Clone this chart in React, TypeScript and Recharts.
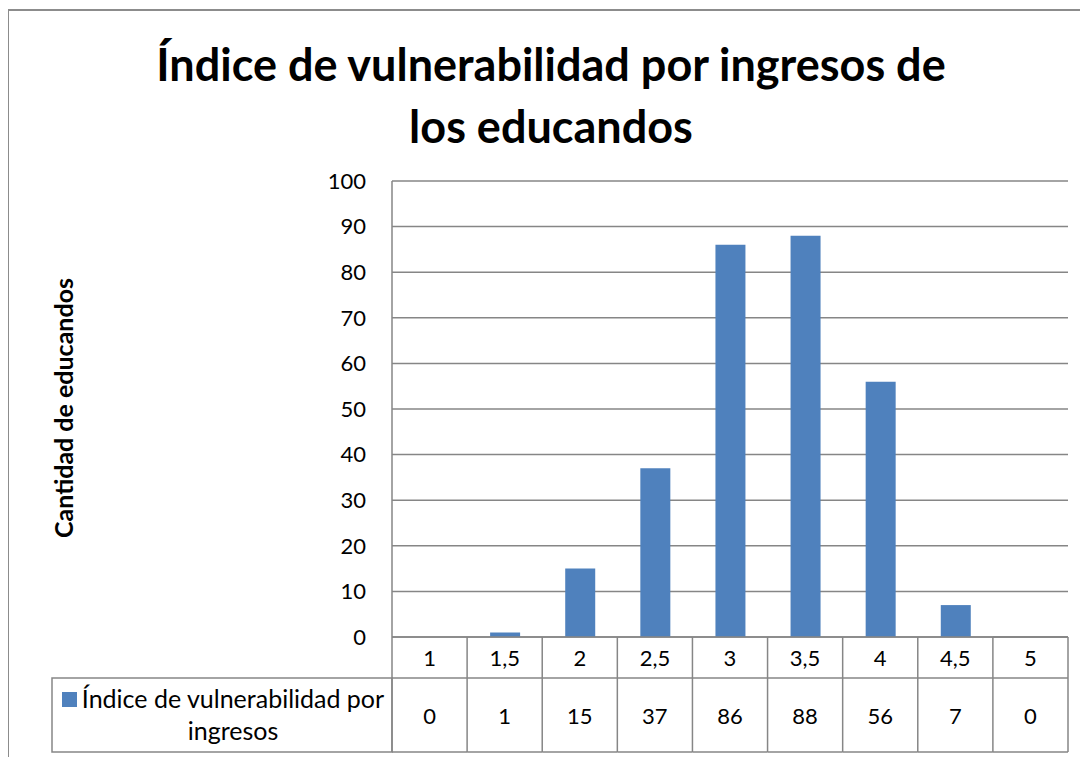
import React from "react";
import { BarChart, Bar, XAxis, YAxis, CartesianGrid } from "recharts";

const categories = ["1", "1,5", "2", "2,5", "3", "3,5", "4", "4,5", "5"];
const values = [0, 1, 15, 37, 86, 88, 56, 7, 0];
const yTicks = [0, 10, 20, 30, 40, 50, 60, 70, 80, 90, 100];
const seriesName = "Índice de vulnerabilidad por ingresos";
const legendLines = ["Índice de vulnerabilidad por", "ingresos"];
const titleLines = ["Índice de vulnerabilidad por ingresos de", "los educandos"];
const yLabel = "Cantidad de educandos";

const W = 1088;
const H = 757;
const LEFT = 392;
const RIGHT = 20;
const TOP = 181;
const TABLE_H = 120;
const ROW1 = 41;
const ROW2 = 74;
const FONT = "Lato, Calibri, 'Open Sans', sans-serif";
const GRID = "#868686";
const BLUE = "#4F81BD";

const data = categories.map((c, i) => ({ cat: c, value: values[i] }));
const bandW = (W - LEFT - RIGHT) / categories.length;

// x axis tick drawn as a column of the data table under the plot
function TableTick(props: any) {
  const { x, y, payload, index } = props;
  const x0 = x - bandW / 2;
  const x1 = x + bandW / 2;
  const yMid = y + ROW1;
  const yBot = y + ROW1 + ROW2;
  const last = index === categories.length - 1;
  return (
    <g>
      <line x1={x0} y1={y} x2={x0} y2={yBot} stroke={GRID} strokeWidth={1.5} />
      {last && <line x1={x1} y1={y} x2={x1} y2={yBot} stroke={GRID} strokeWidth={1.5} />}
      <line x1={x0} y1={yMid} x2={x1} y2={yMid} stroke={GRID} strokeWidth={1.5} />
      <line x1={x0} y1={yBot} x2={x1} y2={yBot} stroke={GRID} strokeWidth={1.5} />
      {last && <line x1={x0} y1={y} x2={x1} y2={y} stroke={GRID} strokeWidth={1.5} />}
      <text x={x} y={y + ROW1 / 2} textAnchor="middle" dominantBaseline="central" fontSize={22} fontFamily={FONT} fill="#000">
        {payload.value}
      </text>
      <text x={x} y={yMid + ROW2 / 2} textAnchor="middle" dominantBaseline="central" fontSize={22} fontFamily={FONT} fill="#000">
        {values[index]}
      </text>
      {index === 0 && (
        <g>
          <rect x={52} y={yMid} width={x0 - 52} height={ROW2} fill="none" stroke={GRID} strokeWidth={1.5} />
          <rect x={62} y={yMid + 14} width={15} height={15} fill={BLUE} />
          <text x={233} y={yMid + 20} textAnchor="middle" dominantBaseline="central" fontSize={25} fontFamily={FONT} fill="#000">
            {legendLines[0]}
          </text>
          <text x={233} y={yMid + 52} textAnchor="middle" dominantBaseline="central" fontSize={25} fontFamily={FONT} fill="#000">
            {legendLines[1]}
          </text>
        </g>
      )}
    </g>
  );
}

export default function App() {
  return (
    <div style={{ position: "relative", width: W, height: H, margin: "-8px 0 0 -8px", background: "#fff", overflow: "hidden" }}>
      <div style={{ position: "absolute", left: 7, top: 9, width: 1200, height: 900, borderLeft: "2px solid #8c8c8c", borderTop: "2px solid #8c8c8c" }} />
      <div
        style={{
          position: "absolute",
          left: 151,
          top: 33,
          width: 800,
          textAlign: "center",
          fontFamily: FONT,
          fontWeight: 700,
          fontSize: 45,
          lineHeight: "62px",
          color: "#000",
        }}
      >
        {titleLines.map((l) => (
          <div key={l}>{l}</div>
        ))}
      </div>
      <div
        style={{
          position: "absolute",
          left: 63,
          top: 408,
          transform: "translate(-50%, -50%) rotate(-90deg)",
          whiteSpace: "nowrap",
          fontFamily: FONT,
          fontWeight: 700,
          fontSize: 25,
          color: "#000",
        }}
      >
        {yLabel}
      </div>
      <div style={{ position: "absolute", left: 0, top: 0 }}>
        <BarChart width={W} height={H} data={data} margin={{ top: TOP, right: RIGHT, bottom: 0, left: 0 }} barSize={30}>
          <CartesianGrid vertical={false} stroke={GRID} strokeWidth={1.5} />
          <YAxis
            width={LEFT}
            domain={[0, 100]}
            ticks={yTicks}
            interval={0}
            axisLine={{ stroke: GRID, strokeWidth: 1.5 }}
            tickLine={false}
            tickSize={0}
            tickMargin={26}
            tick={{ fontSize: 22, fontFamily: FONT, fill: "#000" }}
          />
          <XAxis
            dataKey="cat"
            height={TABLE_H}
            interval={0}
            axisLine={{ stroke: GRID, strokeWidth: 1.5 }}
            tickLine={false}
            tickSize={0}
            tickMargin={0}
            tick={<TableTick />}
          />
          <Bar dataKey="value" name={seriesName} fill={BLUE} isAnimationActive={false} />
        </BarChart>
      </div>
    </div>
  );
}
